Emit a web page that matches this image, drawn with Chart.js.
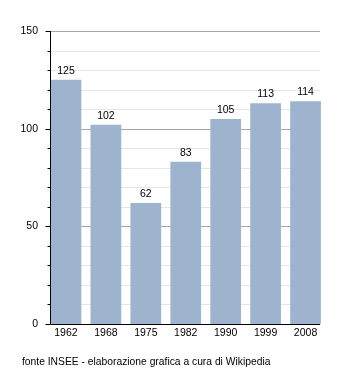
<!DOCTYPE html>
<html>
<head>
<meta charset="utf-8">
<script src="https://cdn.jsdelivr.net/npm/chart.js@4/dist/chart.umd.min.js"></script>
<style>
  html, body { margin: 0; padding: 0; background: #fff; }
  #wrap { width: 350px; height: 373px; position: relative; }
</style>
</head>
<body>
<div id="wrap"><canvas id="c" width="350" height="373"></canvas></div>
<script>
// Population by census year
const years = ['1962', '1968', '1975', '1982', '1990', '1999', '2008'];
const population = [125, 102, 62, 83, 105, 113, 114];
const yMin = 0;
const yMax = 150;
const yStep = 10;
const yLabelStep = 50;
const footer = 'fonte INSEE - elaborazione grafica a cura di Wikipedia';

const FONT = 'Liberation Sans, Arial, sans-serif';
const AXIS_LEFT = 50;   // where the drawn axis line sits
const AXIS_RIGHT = 320; // where the horizontal rules end

// Horizontal rules drawn between the axis line and the right end
const rules = {
  id: 'rules',
  beforeDatasetsDraw(chart) {
    const ctx = chart.ctx;
    const y = chart.scales.y;
    ctx.save();
    ctx.lineWidth = 1;
    for (let v = yMin + yStep; v <= yMax; v += yStep) {
      const py = Math.round(y.getPixelForValue(v)) + 0.5;
      ctx.strokeStyle = v % yLabelStep === 0 ? '#a6a6a6' : '#e6e6e6';
      ctx.beginPath();
      ctx.moveTo(AXIS_LEFT, py);
      ctx.lineTo(AXIS_RIGHT, py);
      ctx.stroke();
    }
    ctx.restore();
  }
};

// Axis lines, tick marks, value labels and footer
const decorations = {
  id: 'decorations',
  afterDatasetsDraw(chart) {
    const ctx = chart.ctx;
    const y = chart.scales.y;
    const top = Math.round(y.getPixelForValue(yMax));
    const bottom = Math.round(y.getPixelForValue(yMin)) + 0.5;
    ctx.save();
    ctx.strokeStyle = '#000';
    ctx.lineWidth = 1;
    ctx.beginPath();
    ctx.moveTo(AXIS_LEFT + 0.5, top);
    ctx.lineTo(AXIS_LEFT + 0.5, bottom);
    ctx.lineTo(AXIS_RIGHT, bottom);
    ctx.stroke();
    for (let v = yMin; v <= yMax; v += yStep) {
      const py = Math.round(y.getPixelForValue(v)) + 0.5;
      const len = v % yLabelStep === 0 ? 5 : 3;
      ctx.beginPath();
      ctx.moveTo(AXIS_LEFT + 0.5 - len, py);
      ctx.lineTo(AXIS_LEFT + 0.5, py);
      ctx.stroke();
    }
    ctx.fillStyle = '#000';
    ctx.font = '10.5px ' + FONT;
    ctx.textAlign = 'center';
    ctx.textBaseline = 'middle';
    const meta = chart.getDatasetMeta(0);
    meta.data.forEach((bar, i) => {
      ctx.fillText(String(population[i]), bar.x, bar.y - 9);
    });
    ctx.textAlign = 'left';
    ctx.font = '10.3px ' + FONT;
    ctx.fillText(footer, 22, 362);
    ctx.restore();
  }
};

new Chart(document.getElementById('c'), {
  type: 'bar',
  data: {
    labels: years,
    datasets: [{
      data: population,
      backgroundColor: '#9eb4ce',
      borderWidth: 0,
      barPercentage: 0.77,
      categoryPercentage: 1.0
    }]
  },
  options: {
    responsive: false,
    animation: false,
    devicePixelRatio: 1,
    layout: { padding: { left: 0, right: 24.5, top: 31, bottom: 29 } },
    plugins: {
      legend: { display: false },
      tooltip: { enabled: false }
    },
    scales: {
      x: {
        grid: { display: false, drawTicks: false },
        border: { display: false },
        ticks: {
          color: '#000',
          font: { family: FONT, size: 10.5 },
          padding: 3,
          maxRotation: 0
        },
        afterFit(scale) { scale.height = 20; }
      },
      y: {
        min: yMin,
        max: yMax,
        border: { display: false },
        grid: { display: false, drawTicks: false },
        ticks: {
          stepSize: yStep,
          color: '#000',
          padding: 8,
          font: { family: FONT, size: 10.5 },
          autoSkip: false,
          callback(value) { return value % yLabelStep === 0 ? String(value) : ''; }
        },
        afterFit(scale) { scale.width = 46; }
      }
    }
  },
  plugins: [rules, decorations]
});
</script>
</body>
</html>
